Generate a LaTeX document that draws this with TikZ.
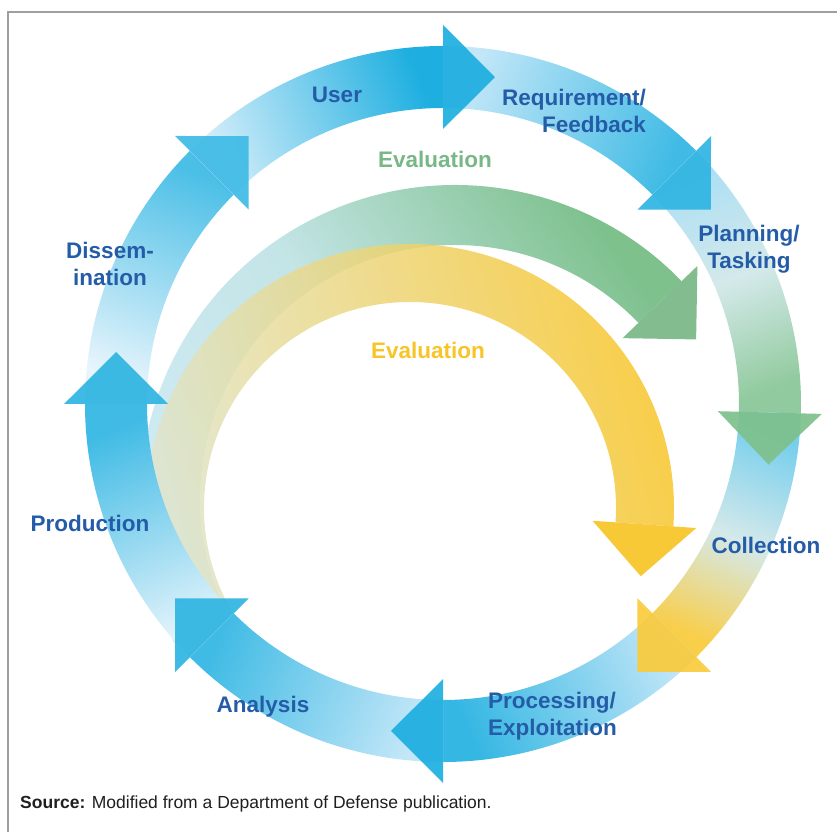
\documentclass[tikz,border=0pt]{standalone}
\usepackage{fontspec}
\setsansfont{Liberation Sans}
\definecolor{lblblue}{RGB}{36,92,168}
\definecolor{ringblue}{RGB}{30,175,224}
\definecolor{ringpale}{RGB}{232,245,252}
\definecolor{ringlight}{RGB}{196,231,248}
\definecolor{paleblend}{RGB}{212,233,234}
\definecolor{evalgreen}{RGB}{126,193,141}
\definecolor{evalyellow}{RGB}{248,197,40}
\definecolor{greentail}{RGB}{208,235,246}
\definecolor{yellowtail}{RGB}{222,231,214}
\tikzset{lbl/.style = {text=lblblue, inner sep=0pt, align=center}}
\tikzset{evallbl/.style = {inner sep=0pt}}

\newcommand{\bandseg}[6]{%
  \pgfmathsetmacro\bandang{(#2+#3)/2-180}
  \shade[shift={#1}, #6, shading angle=\bandang]
    (#2:#5) arc[start angle=#2, end angle=#3, radius=#5]
    -- (#3:#4) arc[start angle=#3, end angle=#2, radius=#4] -- cycle;}
\newcommand{\bandhead}[5]{%
  \pgfmathsetmacro\midr{(#3+#4)/2}
  \pgfmathsetmacro\outr{\midr+52}
  \pgfmathsetmacro\innr{\midr-52}
  \pgfmathsetmacro\tipo{atan(52/\midr)}
  \pgfmathsetmacro\tipr{\midr/cos(\tipo)}
  \pgfmathsetmacro\tipa{#2-\tipo}
  \fill[shift={#1}, #5, fill opacity=.93] (#2:\outr) -- (\tipa:\tipr) -- (#2:\innr) -- cycle;}

\begin{document}
\begin{tikzpicture}[x=1pt, y=1pt, font=\sffamily\bfseries\fontsize{22.5}{27.5}\selectfont]
          \useasboundingbox (0,0) rectangle (837,832);
          \draw[gray!75, line width=1.6pt] (8,0) -- (8,820) -- (837,820);

          \bandseg{(455,332)}{207}{44}{255}{315}{bottom color=greentail, top color=evalgreen, middle color=greentail!85!evalgreen}
          \bandhead{(455,332)}{44}{255}{315}{evalgreen!95!black}
          \bandseg{(410,324)}{212}{-4}{206}{264}{bottom color=yellowtail, top color=evalyellow, opacity=.85}
          \bandhead{(410,324)}{-4}{206}{264}{evalyellow}

          \bandseg{(443,428)}{180}{135}{296}{358}{bottom color=ringpale, top color=ringblue!80}
          \bandseg{(443,428)}{135}{90}{296}{358}{bottom color=ringlight!70!white, top color=ringblue}
          \bandseg{(443,428)}{90}{45}{296}{358}{bottom color=ringlight, top color=ringblue!85}
          \bandseg{(443,428)}{45}{-1.5}{296}{358}{bottom color=ringlight!85!ringblue, top color=evalgreen!85, middle color=paleblend}
          \bandseg{(443,428)}{-1.5}{-45}{296}{358}{bottom color=ringblue!60, top color=evalyellow!85, middle color=paleblend}
          \bandseg{(443,428)}{-45}{-90}{296}{358}{bottom color=ringlight, top color=ringblue!90}
          \bandseg{(443,428)}{-90}{-135}{296}{358}{bottom color=ringlight, top color=ringblue!85}
          \bandseg{(443,428)}{-135}{-180}{296}{358}{bottom color=ringpale, top color=ringblue!85}

          \bandhead{(443,428)}{135}{296}{358}{ringblue!85}
          \bandhead{(443,428)}{90}{296}{358}{ringblue}
          \bandhead{(443,428)}{45}{296}{358}{ringblue!92}
          \bandhead{(443,428)}{-1.5}{296}{358}{evalgreen}
          \bandhead{(443,428)}{-45}{296}{358}{evalyellow!90}
          \bandhead{(443,428)}{-90}{296}{358}{ringblue}
          \bandhead{(443,428)}{-135}{296}{358}{ringblue!92}
          \bandhead{(443,428)}{180}{296}{358}{ringblue!92}

          \node[lbl] (user) at (337,737) {User};
          \node[lbl, anchor=east, align=right] (reqfb) at (646,721) {Requirement/\\Feedback};
          \node[lbl] (plantask) at (749,583) {Planning/\\Tasking};
          \node[lbl] (collect) at (766,287) {Collection};
          \node[lbl, anchor=west, align=left] (procexp) at (488,116) {Processing/\\Exploitation};
          \node[lbl] (analysis) at (263,125) {Analysis};
          \node[lbl] (product) at (90,309) {Production};
          \node[lbl] (dissem) at (110,568) {Dissem-\\ination};
          \node[evallbl, text=evalgreen!95!black] (evaltop) at (435,673) {Evaluation};
          \node[evallbl, text=evalyellow] (evalmid) at (428,482) {Evaluation};
          \node[evallbl, anchor=base west, text=black!88, font=\sffamily\fontsize{17.5}{20}\selectfont] (source) at (20,24) {\textbf{Source:} Modified from a Department of Defense publication.};
        \end{tikzpicture}
\end{document}
